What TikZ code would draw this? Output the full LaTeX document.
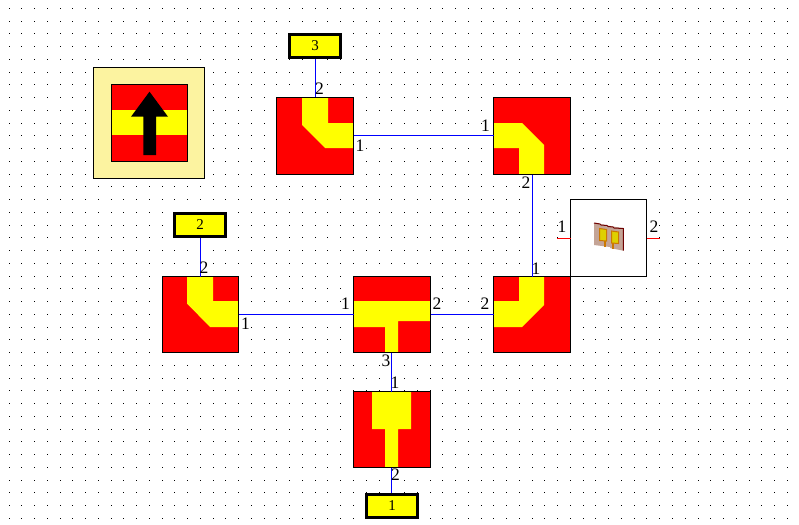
\documentclass[tikz,border=0pt]{standalone}
\usepackage{fontspec}
\setmainfont{Liberation Serif}
\definecolor{legendbg}{RGB}{252,243,160}
\definecolor{subst}{RGB}{196,164,150}
\definecolor{patchy}{RGB}{222,208,0}
\definecolor{patcho}{RGB}{204,120,0}
\definecolor{wireblue}{RGB}{0,0,255}
\definecolor{wirered}{RGB}{255,0,0}
\definecolor{tilered}{RGB}{255,0,0}
\definecolor{tileyellow}{RGB}{255,255,0}
\definecolor{iconedge}{RGB}{110,0,0}
\tikzset{
  x=1pt,y=-1pt,
  tile/.style={draw=black,line width=1pt,inner sep=0pt,outer sep=0pt},
  port/.style={draw=black,fill=tileyellow,line width=3pt,minimum width=51pt,minimum height=23pt,inner sep=0pt,outer sep=1.5pt,font=\fontsize{15}{15}\selectfont},
  plabel/.style={inner sep=0pt,font=\fontsize{17.5}{17.5}\selectfont},
  wire/.style={wireblue,line width=1pt},
  redwire/.style={wirered,line width=1pt},
}
\begin{document}
\begin{tikzpicture}
\useasboundingbox (0,0) rectangle (799,524);
\fill[white] (0,0) rectangle (799,524);
% grid of dots
\foreach \i in {0,...,61}{\foreach \j in {0,...,40}{
  \pgfmathsetmacro{\dx}{floor(9+12.76*\i)}\pgfmathsetmacro{\dy}{floor(8.3+12.75*\j)}
  \fill[black] (\dx,\dy) rectangle (\dx+1,\dy+1);
}}
% legend
\node[draw=black,fill=legendbg,line width=1pt,minimum width=111pt,minimum height=111pt,inner sep=0pt] (legend) at (149,123) {};
\fill[tilered] (111.5,84.5) rectangle (187.5,161.5);
\fill[tileyellow] (111.5,110) rectangle (187.5,135);
\fill[black] (143.3,155) -- (143.3,116.7) -- (131,116.7) -- (149.5,91.7) -- (168,116.7) -- (156,116.7) -- (156,155) -- cycle;
\node[tile,minimum width=76pt,minimum height=77pt] (legendtile) at (149.5,123) {};
% tile A
\fill[tilered] (276.5,97.5) rectangle (353.5,174.5);
\fill[tileyellow] (302,97.5) -- (328,97.5) -- (328,123) -- (353.5,123) -- (353.5,148) -- (325,148) -- (302,125) -- cycle;
\node[tile,minimum width=77pt,minimum height=77pt] (A) at (315,136) {};
% tile B
\fill[tilered] (493.5,97.5) rectangle (570.5,174.5);
\fill[tileyellow] (493.5,123) -- (522,123) -- (544,145) -- (544,174.5) -- (519,174.5) -- (519,148) -- (493.5,148) -- cycle;
\node[tile,minimum width=77pt,minimum height=77pt] (B) at (532,136) {};
% tile C
\fill[tilered] (493.5,276.5) rectangle (570.5,352.5);
\fill[tileyellow] (519,276.5) -- (544,276.5) -- (544,305) -- (522,327) -- (493.5,327) -- (493.5,301) -- (519,301) -- cycle;
\node[tile,minimum width=77pt,minimum height=76pt] (C) at (532,314.5) {};
% tile D
\fill[tilered] (162.5,276.5) rectangle (238.5,352.5);
\fill[tileyellow] (187,276.5) -- (213,276.5) -- (213,301) -- (238.5,301) -- (238.5,327) -- (210,327) -- (187,303.5) -- cycle;
\node[tile,minimum width=76pt,minimum height=76pt] (D) at (200.5,314.5) {};
% tile E
\fill[tilered] (353.5,276.5) rectangle (430.5,352.5);
\fill[tileyellow] (353.5,301) -- (430.5,301) -- (430.5,321) -- (398,321) -- (398,352.5) -- (385,352.5) -- (385,327) -- (353.5,327) -- cycle;
\node[tile,minimum width=77pt,minimum height=76pt] (E) at (392,314.5) {};
% tile F
\fill[tilered] (353.5,391.5) rectangle (430.5,467.5);
\fill[tileyellow] (372,391.5) -- (411,391.5) -- (411,429) -- (398,429) -- (398,467.5) -- (385,467.5) -- (385,429) -- (372,429) -- cycle;
\node[tile,minimum width=77pt,minimum height=76pt] (F) at (392,429.5) {};
% element box
\node[draw=black,fill=white,line width=1pt,minimum width=76pt,minimum height=77pt,inner sep=0pt,outer sep=0pt] (G) at (608.5,238) {};
% icon
\fill[subst] (594,223) -- (623.3,228.3) -- (623.3,250.7) -- (610,248) -- (610,247) -- (594,245) -- cycle;
\draw[iconedge,line width=1pt] (594,223) -- (600,224) -- (601,225) -- (607,225.5) -- (608,226.5) -- (613,227) -- (614,228) -- (623.3,228.5) -- (623.3,250.7);
\fill[patcho] (604,240) rectangle (606,246.7);
\fill[patcho] (612,243) rectangle (614,249);
\draw[patcho,fill=patchy,line width=1pt] (599.5,228.5) -- (606.5,229.5) -- (606.5,241) -- (599.5,240.5) -- cycle;
\draw[patcho,fill=patchy,line width=1pt] (611.5,231) -- (618.5,232) -- (618.5,243.5) -- (611.5,243) -- cycle;
% ports
\node[port] (P3) at (315,46) {3};
\node[port] (P2) at (200,225) {2};
\node[port] (P1) at (392,505.5) {1};
% free ends of the element's stubs
\coordinate (GL) at (557,238);
\coordinate (GR) at (660,238);
% connectors
\draw[wire] ([xshift=.5pt]P3.south) -- ([xshift=.5pt]A.north);
\draw[wire] ([yshift=.5pt]A.east) -- ([yshift=.5pt]B.west);
\draw[wire] ([xshift=.5pt]B.south) -- ([xshift=.5pt]C.north);
\draw[wire] ([xshift=.5pt]P2.south) -- (D.north);
\draw[wire] (D.east) -- (E.west);
\draw[wire] (E.east) -- (C.west);
\draw[wire] ([xshift=-.5pt]E.south) -- ([xshift=-.5pt]F.north);
\draw[wire] ([xshift=-.5pt]F.south) -- ([xshift=-.5pt]P1.north);
\draw[redwire] ([yshift=-.5pt]GL) -- ([yshift=-.5pt]G.west);
\draw[redwire] ([yshift=-.5pt]G.east) -- ([yshift=-.5pt]GR);
% labels
\node[plabel] (l1) at (319.5,89) {2};
\node[plabel] (l2) at (360,145.5) {1};
\node[plabel] (l3) at (485.5,126) {1};
\node[plabel] (l4) at (526,182.5) {2};
\node[plabel] (l5) at (536,268.5) {1};
\node[plabel] (l6) at (485,304) {2};
\node[plabel] (l7) at (204,268) {2};
\node[plabel] (l8) at (245.5,324) {1};
\node[plabel] (l9) at (345.5,304) {1};
\node[plabel] (l10) at (437,304) {2};
\node[plabel] (l11) at (386,360.5) {3};
\node[plabel] (l12) at (395,383) {1};
\node[plabel] (l13) at (395.5,475) {2};
\node[plabel] (l14) at (562,227) {1};
\node[plabel] (l15) at (654,227) {2};
\end{tikzpicture}
\end{document}
